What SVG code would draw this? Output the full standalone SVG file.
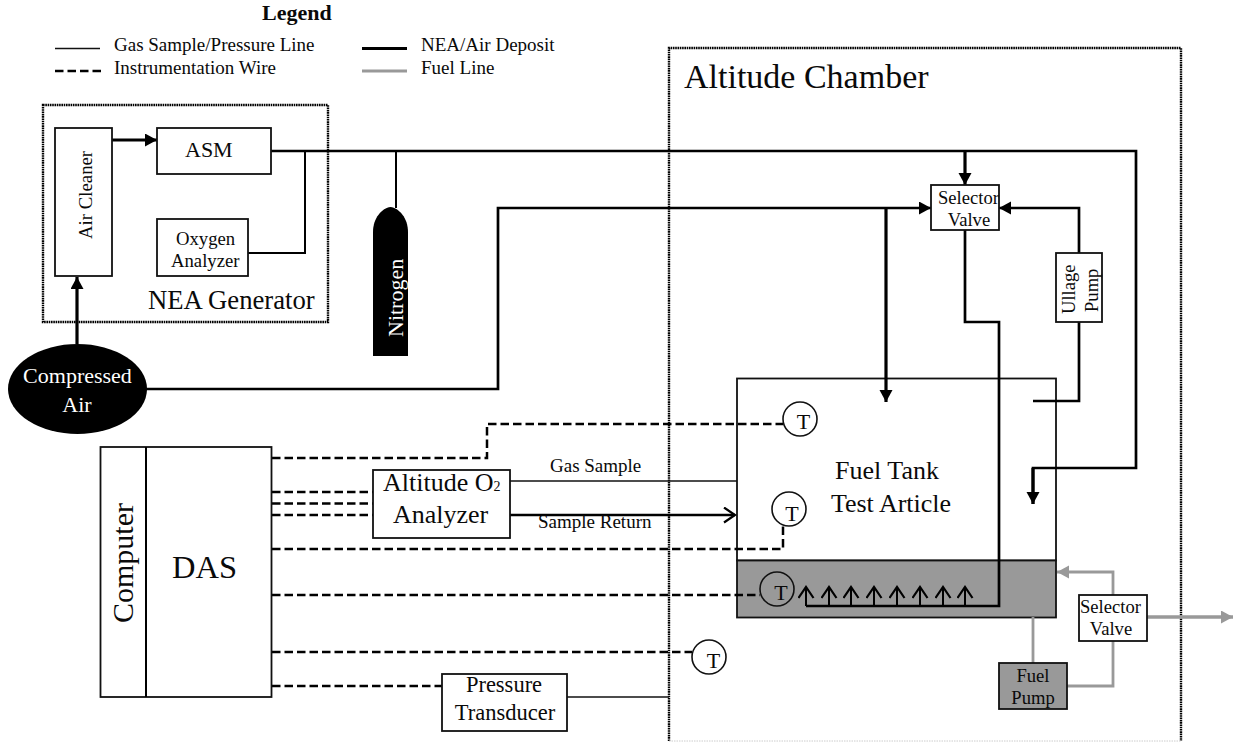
<svg xmlns="http://www.w3.org/2000/svg" width="1233" height="742" viewBox="0 0 1233 742">
<style>
text{font-family:"Liberation Serif","Times New Roman",serif;fill:#0a0a0a}
.box{fill:#fff;stroke:#111;stroke-width:1.8}
.gbox{fill:#999;stroke:#111;stroke-width:1.8}
.dot{fill:none;stroke:#000;stroke-width:2.400;stroke-dasharray:1.6 .7}
.c{fill:none;stroke-linejoin:miter}
.thin{stroke:#111;stroke-width:1.600}
.med{stroke:#000;stroke-width:2}
.bold{stroke:#000;stroke-width:2.700}
.heavy{stroke:#000;stroke-width:3.200}
.dash{stroke:#000;stroke-width:2.500;stroke-dasharray:8.500 4}
.fuel{stroke:#999;stroke-width:2.800}
.fh{stroke:#999;stroke-width:3.500}
.m{text-anchor:middle}
.w{fill:#fff}
.s19{font-size:19px}.s22{font-size:22px}.s26{font-size:26px}
</style>
<defs>
<marker id="tri" markerUnits="userSpaceOnUse" markerWidth="14" markerHeight="14" refX="12" refY="6.500" orient="auto"><path d="M0 0L12 6.500L0 13z" fill="#000"/></marker>
<marker id="trig" markerUnits="userSpaceOnUse" markerWidth="14" markerHeight="14" refX="12" refY="6.500" orient="auto"><path d="M0 0L12 6.500L0 13z" fill="#999"/></marker>
<marker id="open" markerUnits="userSpaceOnUse" markerWidth="16" markerHeight="18" refX="13" refY="8.500" orient="auto"><path d="M2 1L13 8.500L2 16" fill="none" stroke="#000" stroke-width="2.200"/></marker>
</defs>

<g id="legend">
<text x="262" y="20" font-weight="bold" font-size="22">Legend</text>
<line x1="55" y1="48.500" x2="100" y2="48.500" class="c thin"/>
<line x1="55" y1="71" x2="101" y2="71" class="c dash"/>
<line x1="362" y1="48.500" x2="407" y2="48.500" class="c heavy"/>
<line x1="362" y1="71" x2="407" y2="71" class="c fuel"/>
<text x="114" y="51" class="s19">Gas Sample/Pressure Line</text>
<text x="114" y="74" class="s19">Instrumentation Wire</text>
<text x="421" y="51" class="s19">NEA/Air Deposit</text>
<text x="421" y="74" class="s19">Fuel Line</text>
</g>

<g id="altitude-chamber">
<path d="M669 741V48H1181V741" class="dot"/>
<path d="M669 741H1181" fill="none" stroke="#ccc" stroke-width="1" stroke-dasharray="1.500 1"/>
<text x="684" y="88" font-size="34">Altitude Chamber</text>
</g>

<g id="nea-generator">
<rect x="43" y="105" width="285" height="217" class="dot"/>
<text x="148" y="309" font-size="26.700">NEA Generator</text>
</g>

<g id="fuel-tank">
<rect x="737" y="378.500" width="319" height="182" class="box"/>
<rect x="737" y="560.500" width="319" height="57" class="gbox"/>
<text x="887" y="479" class="s26 m">Fuel Tank</text>
<text x="891" y="512" class="s26 m">Test Article</text>
</g>

<g id="connectors">
<path d="M271 151H1136V468H1033V504" class="c bold"/>
<path d="M305 151V253H248" class="c med"/>
<path d="M396 151V208" class="c med"/>
<path d="M77 344V277" class="c heavy" marker-end="url(#tri)"/>
<path d="M112 140H157" class="c heavy" marker-end="url(#tri)"/>
<path d="M146 389H498V208H931" class="c bold" marker-end="url(#tri)"/>
<path d="M965 151V185" class="c heavy" marker-end="url(#tri)"/>
<path d="M886 208V402" class="c heavy" marker-end="url(#tri)"/>
<path d="M1079 253V208H999" class="c bold" marker-end="url(#tri)"/>
<path d="M1079 322V401H1033" class="c bold"/>
<path d="M965 230V322H999V606H806" class="c bold"/>
<path d="M1033 468V504" class="c heavy" marker-end="url(#tri)"/>
<path d="M806 606V587" class="c med" marker-end="url(#open)"/>
<path d="M829 606V587" class="c med" marker-end="url(#open)"/>
<path d="M851 606V587" class="c med" marker-end="url(#open)"/>
<path d="M874 606V587" class="c med" marker-end="url(#open)"/>
<path d="M897 606V587" class="c med" marker-end="url(#open)"/>
<path d="M920 606V587" class="c med" marker-end="url(#open)"/>
<path d="M943 606V587" class="c med" marker-end="url(#open)"/>
<path d="M965 606V587" class="c med" marker-end="url(#open)"/>
<path d="M272 458H487V424H783" class="c dash"/>
<path d="M272 492H373" class="c dash"/>
<path d="M272 503.500H373" class="c dash"/>
<path d="M272 515H373" class="c dash"/>
<path d="M272 549H783V526" class="c dash"/>
<path d="M272 595H760" class="c dash"/>
<path d="M272 652H692" class="c dash"/>
<path d="M272 686H442" class="c dash"/>
<path d="M510 481H737" class="c thin"/>
<path d="M510 515H735" class="c bold" marker-end="url(#open)"/>
<path d="M567 697H669" class="c thin"/>
<path d="M1033 617V663" class="c fuel"/>
<path d="M1067 686H1113V641" class="c fuel"/>
<path d="M1113 595V572H1057" class="c fuel" marker-end="url(#trig)"/>
<path d="M1147 617H1233" class="c fh" marker-end="url(#trig)"/>
<text x="550" y="472" class="s19">Gas Sample</text>
<text x="538" y="528" class="s19">Sample Return</text>
</g>

<g id="air-cleaner"><rect x="55" y="128" width="57" height="148" class="box"/>
<text transform="translate(92 239) rotate(-90)" font-size="18.800">Air Cleaner</text></g>
<g id="asm"><rect x="157" y="128" width="114" height="46" class="box"/>
<text x="185" y="157" class="s22">ASM</text></g>
<g id="oxygen-analyzer"><rect x="157" y="219" width="91" height="57" class="box"/>
<text x="176" y="245" font-size="18.700">Oxygen</text><text x="171" y="267" font-size="18.700">Analyzer</text></g>
<g id="nitrogen"><path d="M373 356V232C373 218 382 208 390.500 207C399 208 408 218 408 232V356z" fill="#000"/>
<text transform="translate(403 337) rotate(-90)" class="s22 w">Nitrogen</text></g>
<g id="compressed-air"><ellipse cx="77.500" cy="389" rx="69.500" ry="45" fill="#000"/>
<text x="77.500" y="383" class="s22 m w">Compressed</text><text x="77" y="412" class="s22 m w">Air</text></g>
<g id="selector-valve-top"><rect x="931" y="185" width="68" height="45" class="box"/>
<text x="938" y="204" font-size="18.600">Selector</text><text x="969" y="226" font-size="18.600" class="m">Valve</text></g>
<g id="ullage-pump"><rect x="1056" y="253" width="46" height="69" class="box"/>
<text transform="translate(1075 314) rotate(-90)" font-size="18.600">Ullage</text>
<text transform="translate(1098 312) rotate(-90)" font-size="18.600">Pump</text></g>
<g id="selector-valve-fuel"><rect x="1079" y="595" width="68" height="46" class="box"/>
<text x="1080" y="613" font-size="18.600">Selector</text><text x="1111" y="635" font-size="18.600" class="m">Valve</text></g>
<g id="fuel-pump"><rect x="999" y="663" width="68" height="46" class="gbox"/>
<text x="1033" y="682" font-size="18.600" class="m">Fuel</text><text x="1033" y="704" font-size="18.600" class="m">Pump</text></g>
<g id="altitude-o2-analyzer"><rect x="373" y="470" width="137" height="68" class="box"/>
<text x="383" y="491" class="s26">Altitude O<tspan font-size="14">2</tspan></text>
<text x="393" y="523" class="s26">Analyzer</text></g>
<g id="pressure-transducer"><rect x="442" y="674" width="125" height="57" class="box"/>
<text x="504" y="692" font-size="22.500" class="m">Pressure</text><text x="505" y="720" font-size="22.500" class="m">Transducer</text></g>
<g id="das"><rect x="100.500" y="447" width="171" height="250" class="box"/>
<line x1="146" y1="447" x2="146" y2="697" stroke="#000" stroke-width="2"/>
<text transform="translate(133 623) rotate(-90)" font-size="30">Computer</text>
<text x="172" y="578" font-size="32.500">DAS</text></g>
<g id="t1"><circle cx="800" cy="419" r="17" fill="#fff" stroke="#111" stroke-width="1.600"/><text x="803.500" y="429" class="s22 m">T</text></g>
<g id="t2"><circle cx="789" cy="509" r="17" fill="#fff" stroke="#111" stroke-width="1.600"/><text x="792" y="521" class="s22 m">T</text></g>
<g id="t3"><circle cx="777" cy="589" r="17" fill="#999" stroke="#111" stroke-width="1.600"/><text x="781" y="600" class="s22 m">T</text></g>
<g id="t4"><circle cx="709" cy="657" r="17" fill="#fff" stroke="#111" stroke-width="1.600"/><text x="713.500" y="668" class="s22 m">T</text></g>
</svg>
